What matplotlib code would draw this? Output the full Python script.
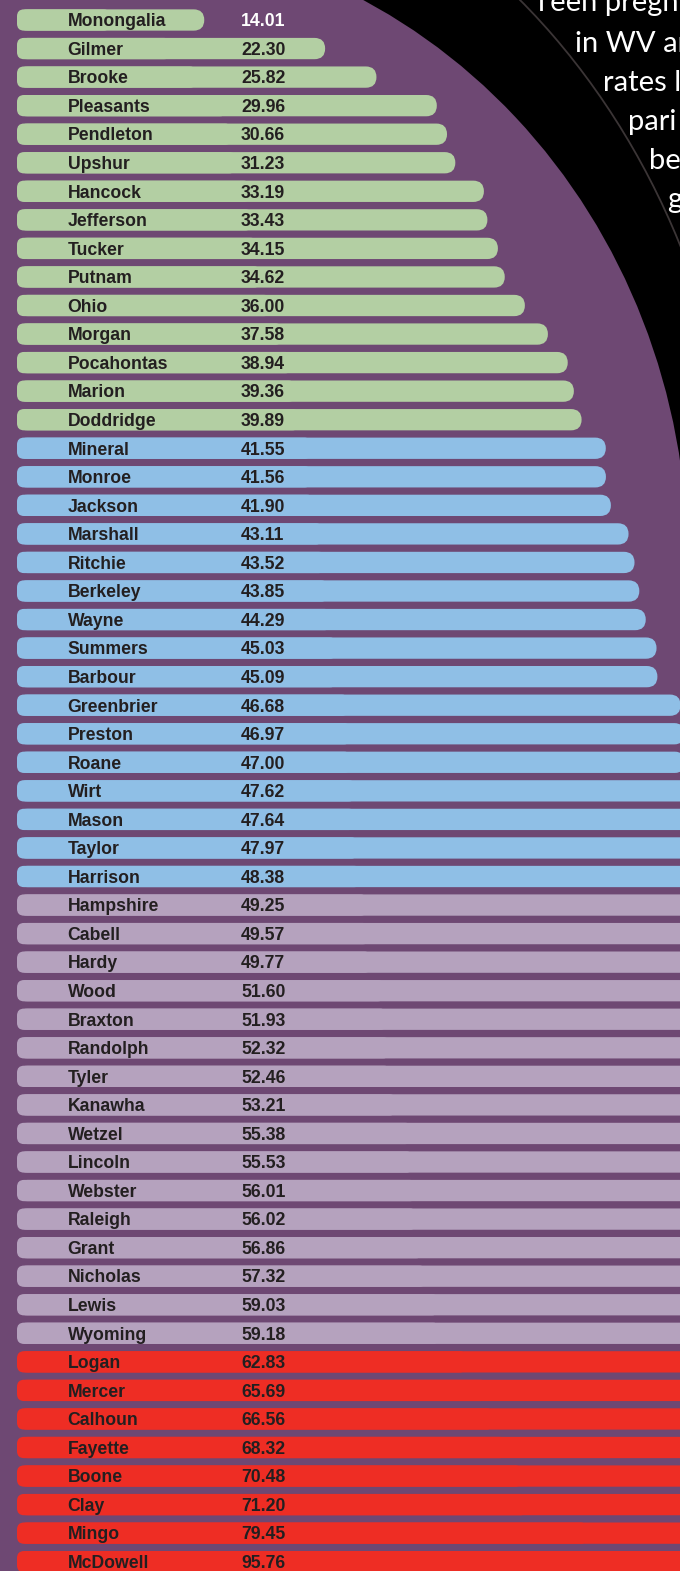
import numpy as np
import matplotlib.pyplot as plt
from matplotlib.patches import FancyBboxPatch, Ellipse, Rectangle
from matplotlib.transforms import blended_transform_factory

counties = ["Monongalia", "Gilmer", "Brooke", "Pleasants", "Pendleton", "Upshur",
            "Hancock", "Jefferson", "Tucker", "Putnam", "Ohio", "Morgan",
            "Pocahontas", "Marion", "Doddridge", "Mineral", "Monroe", "Jackson",
            "Marshall", "Ritchie", "Berkeley", "Wayne", "Summers", "Barbour",
            "Greenbrier", "Preston", "Roane", "Wirt", "Mason", "Taylor",
            "Harrison", "Hampshire", "Cabell", "Hardy", "Wood", "Braxton",
            "Randolph", "Tyler", "Kanawha", "Wetzel", "Lincoln", "Webster",
            "Raleigh", "Grant", "Nicholas", "Lewis", "Wyoming", "Logan",
            "Mercer", "Calhoun", "Fayette", "Boone", "Clay", "Mingo", "McDowell"]
rates = [14.01, 22.30, 25.82, 29.96, 30.66, 31.23, 33.19, 33.43, 34.15, 34.62,
         36.00, 37.58, 38.94, 39.36, 39.89, 41.55, 41.56, 41.90, 43.11, 43.52,
         43.85, 44.29, 45.03, 45.09, 46.68, 46.97, 47.00, 47.62, 47.64, 47.97,
         48.38, 49.25, 49.57, 49.77, 51.60, 51.93, 52.32, 52.46, 53.21, 55.38,
         55.53, 56.01, 56.02, 56.86, 57.32, 59.03, 59.18, 62.83, 65.69, 66.56,
         68.32, 70.48, 71.20, 79.45, 95.76]
tier_edges = [40, 49, 60]
tier_colors = ["#b3cfa3", "#8fbfe6", "#b5a2be", "#ee2d24"]
intro_lines = ["Teen pregn", "in WV ar", "rates l", "pari", "be", "g"]

PURPLE = "#6e4873"
DARK = "#231f20"
W, H = 680, 1571

fig = plt.figure(figsize=(W / 100, H / 100), dpi=100)
fig.patch.set_facecolor(PURPLE)

# background: black corner cut by a big purple arc
bg = fig.add_axes([0, 0, 1, 1])
bg.set_xlim(0, W)
bg.set_ylim(H, 0)
bg.axis("off")
corner = Rectangle((340, -5), 345, 475, color="black", lw=0)
bg.add_patch(corner)
bg.add_patch(Ellipse((100, 560), 2 * 587.5, 2 * 626.3, color=PURPLE, lw=0))
ring = Ellipse((100, 560), 2 * 640.7, 2 * 741.6, fill=False, ec="#3b3536", lw=1.3)
bg.add_patch(ring)
ring.set_clip_path(corner)
xs = [533, 575, 603, 628, 649, 667]
for k, line in enumerate(intro_lines):
    bg.text(xs[k], 11 + 39 * k + (2 if k else 0), line, color="white", fontsize=21,
            family="Lato", ha="left", va="baseline")

# bars
px_per_unit = 14.58
row, top = 28.55, 20
ax = fig.add_axes([0, 0, 1, 1])
ax.set_facecolor("none")
ax.axis("off")
ax.set_xlim(0, W / px_per_unit)
ax.set_ylim((H - top) / row, -top / row)

p0 = ax.transData.transform((0, 0))
p1 = ax.transData.transform((1, 1))
m = (p1[0] - p0[0]) / abs(p1[1] - p0[1])

bar_start = 17 / px_per_unit
bar_h = 21.3 / row
r_right = 0.5 * bar_h / m
r_left = 7 / px_per_unit
name_x = 67.7 / W
val_x = 241 / W
tx = blended_transform_factory(fig.transFigure, ax.transData)
base = 6.3 / row

for i, (name, val) in enumerate(zip(counties, rates)):
    color = tier_colors[np.searchsorted(tier_edges, val)]
    y0 = i - bar_h / 2
    ax.add_patch(FancyBboxPatch((bar_start, y0), val - bar_start, bar_h,
                                boxstyle=f"round,pad=0,rounding_size={r_right}",
                                mutation_aspect=m, fc=color, ec="none"))
    ax.add_patch(FancyBboxPatch((bar_start, y0), (val - bar_start) / 2, bar_h,
                                boxstyle=f"round,pad=0,rounding_size={r_left}",
                                mutation_aspect=m, fc=color, ec="none"))
    ax.text(name_x, i + base, name, transform=tx, ha="left", va="baseline",
            fontsize=12.7, fontweight="bold", family="Liberation Sans", color=DARK)
    inside = val * px_per_unit > 241 + 50
    ax.text(val_x, i + base, f"{val:.2f}", transform=tx, ha="left", va="baseline",
            fontsize=12.7, fontweight="bold", family="Liberation Sans",
            color=DARK if inside else "white")

fig.savefig("out.png", dpi=100, facecolor=fig.get_facecolor())
